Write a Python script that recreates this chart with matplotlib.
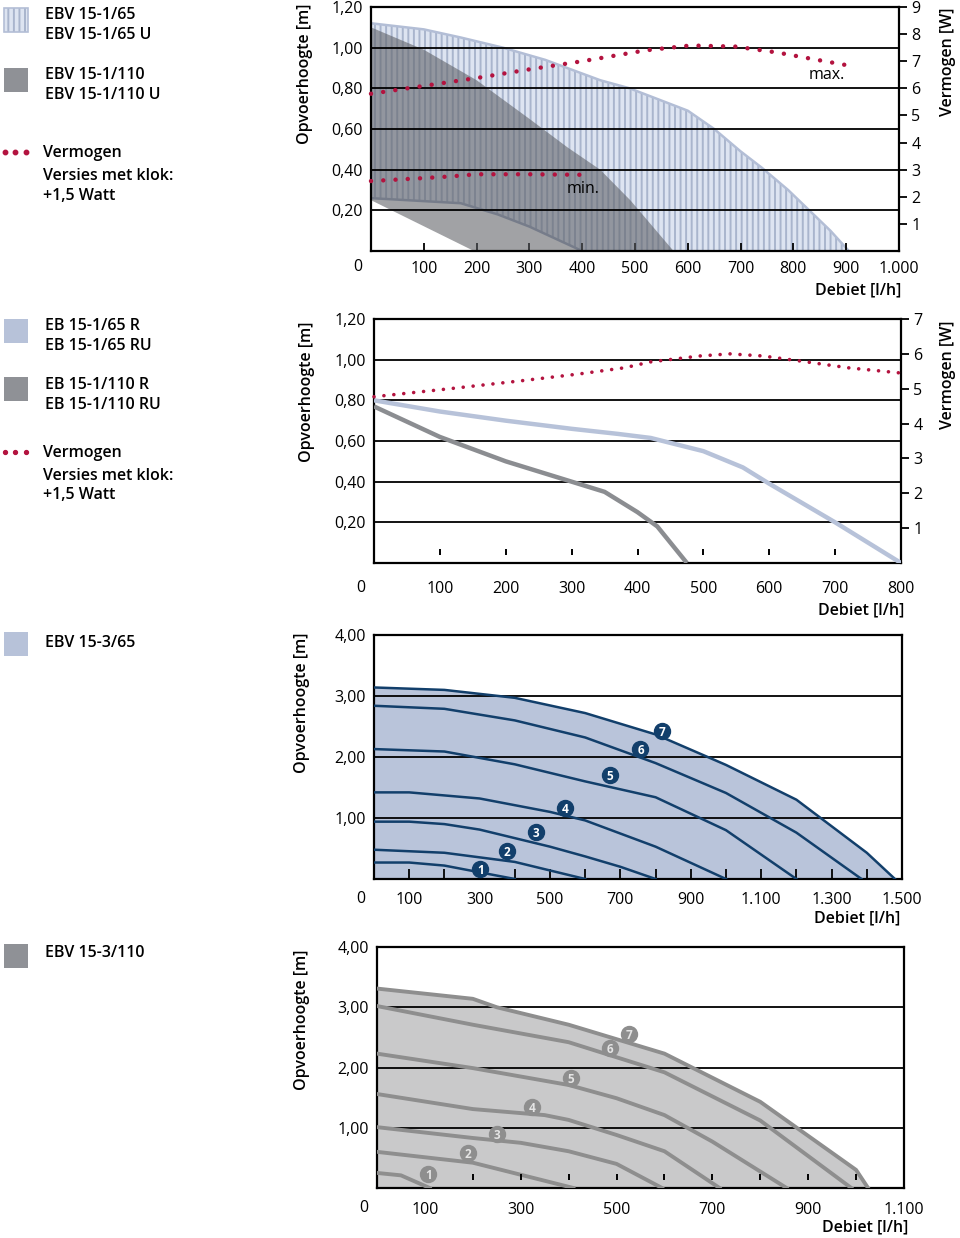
import matplotlib.pyplot as plt
from matplotlib.patches import Rectangle
from matplotlib import transforms

plt.rcParams['font.family'] = ['Open Sans', 'DejaVu Sans']
plt.rcParams['font.size'] = 11.5
plt.rcParams['hatch.linewidth'] = 1.4

W, H = 960, 1238

# ---- panel 1: EBV 15-1/65 (hatched band), EBV 15-1/110 (grey band), power
p1_65_top_x = [0, 100, 170, 250, 330, 434, 490, 540, 600, 650, 700, 740, 790, 830, 870, 905]
p1_65_top_y = [1.12, 1.09, 1.05, 1.00, 0.94, 0.84, 0.80, 0.75, 0.69, 0.60, 0.49, 0.41,
               0.30, 0.20, 0.10, 0.0]
p1_65_low_x = [0, 170, 240, 300, 350, 400]
p1_65_low_y = [0.26, 0.235, 0.18, 0.12, 0.06, 0.0]
p1_110_top_x = [0, 100, 200, 300, 372, 434, 491, 573]
p1_110_top_y = [1.10, 0.99, 0.84, 0.65, 0.51, 0.40, 0.25, 0.0]
p1_110_low_x = [0, 195]
p1_110_low_y = [0.25, 0.0]
p1_pmax_x = [0, 100, 200, 300, 400, 460, 520, 605, 690, 770, 845, 905]
p1_pmax_w = [5.8, 6.09, 6.38, 6.7, 7.0, 7.2, 7.4, 7.58, 7.54, 7.32, 7.05, 6.84]
p1_pmin_x = [0, 100, 150, 200, 300, 405]
p1_pmin_w = [2.58, 2.69, 2.75, 2.83, 2.83, 2.81]

# ---- panel 2: EB 15-1/65 R, EB 15-1/110 R, power
p2_65_x = [0, 100, 200, 300, 370, 420, 500, 560, 600, 700, 800]
p2_65_y = [0.80, 0.745, 0.70, 0.66, 0.635, 0.615, 0.55, 0.47, 0.39, 0.20, 0.0]
p2_110_x = [0, 100, 200, 300, 350, 400, 430, 475]
p2_110_y = [0.77, 0.62, 0.50, 0.40, 0.35, 0.25, 0.18, 0.0]
p2_pow_x = [0, 110, 220, 310, 380, 420, 495, 540, 590, 645, 720, 800]
p2_pow_w = [4.77, 4.99, 5.22, 5.42, 5.6, 5.77, 5.94, 6.0, 5.94, 5.8, 5.6, 5.45]

# ---- panel 3: EBV 15-3/65, speed steps 1..7
p3_x = [[0, 100, 200, 300, 400],
        [0, 200, 400, 600],
        [0, 100, 200, 300, 500, 600, 700, 800],
        [0, 100, 300, 500, 600, 800, 1000],
        [0, 200, 400, 600, 800, 1000, 1200],
        [0, 200, 400, 600, 800, 1000, 1200, 1385],
        [0, 200, 400, 600, 800, 1000, 1200, 1400, 1480]]
p3_y = [[0.27, 0.27, 0.22, 0.11, 0.0],
        [0.48, 0.43, 0.28, 0.0],
        [0.94, 0.94, 0.90, 0.81, 0.53, 0.37, 0.20, 0.0],
        [1.42, 1.42, 1.32, 1.10, 0.96, 0.53, 0.0],
        [2.13, 2.09, 1.88, 1.60, 1.34, 0.80, 0.0],
        [2.84, 2.79, 2.60, 2.32, 1.90, 1.41, 0.76, 0.0],
        [3.14, 3.10, 2.97, 2.72, 2.37, 1.87, 1.30, 0.43, 0.0]]
p3_badge_x = [302, 378, 461, 544, 670, 757, 817]
p3_badge_y = [0.16, 0.46, 0.77, 1.16, 1.70, 2.13, 2.43]

# ---- panel 4: EBV 15-3/110, speed steps 1..7
p4_x = [[0, 50, 110],
        [0, 200, 300, 410],
        [0, 200, 300, 400, 500, 595],
        [0, 200, 350, 400, 500, 600, 715],
        [0, 200, 400, 500, 600, 700, 855],
        [0, 200, 400, 600, 800, 990],
        [0, 200, 250, 400, 600, 800, 1000, 1025]]
p4_y = [[0.25, 0.21, 0.0],
        [0.60, 0.42, 0.22, 0.0],
        [1.01, 0.83, 0.75, 0.61, 0.40, 0.0],
        [1.56, 1.31, 1.21, 1.13, 0.88, 0.61, 0.0],
        [2.23, 1.99, 1.71, 1.49, 1.21, 0.77, 0.0],
        [3.02, 2.71, 2.42, 1.92, 1.12, 0.0],
        [3.31, 3.14, 3.0, 2.71, 2.23, 1.43, 0.30, 0.0]]
p4_badge_x = [107, 189, 251, 324, 404, 486, 526]
p4_badge_y = [0.23, 0.58, 0.90, 1.34, 1.83, 2.32, 2.55]

CRIMSON = '#b3133f'
NAVY = '#123f6b'
LIGHT = '#dde4f1'
STRIPE = '#a9b5cd'
EDGE = '#b3bed6'

fig = plt.figure(figsize=(W / 100, H / 100), dpi=100)

lg = fig.add_axes([0, 0, 1, 1])
lg.set_xlim(0, W)
lg.set_ylim(H, 0)
lg.axis('off')


def px_axes(l, t, r, b):
    return fig.add_axes([l / W, 1 - b / H, (r - l) / W, (b - t) / H])


def frame(ax, grid):
    for s in ax.spines.values():
        s.set_linewidth(1.6)
    for g in grid:
        ax.axhline(g, color='black', lw=1.3, zorder=3)


def zero_label(ax, dy):
    ax.annotate('0', xy=(0, 0), xycoords=('data', 'axes fraction'),
                xytext=(-13, -dy), textcoords='offset pixels',
                ha='center', va='center', annotation_clip=False)


def floating_ticks(ax, ticks):
    tr = transforms.blended_transform_factory(ax.transData, ax.transAxes)
    ax.plot(ticks, [0.045] * len(ticks), ls='none', marker='|', ms=5,
            mew=1.4, color='black', transform=tr, clip_on=False, zorder=4)


def dots(ax, x, y, lw):
    ax.plot(x, y, color=CRIMSON, lw=lw, ls=(0, (0.01, 2.75)),
            dash_capstyle='round', clip_on=False, zorder=6)


def badges(ax, bx, by, face, txt):
    for i, (x, y) in enumerate(zip(bx, by)):
        ax.plot(x, y, 'o', ms=11.5, color=face, zorder=7)
        ax.text(x, y, str(i + 1), color=txt, fontsize=8.5, fontweight='bold',
                ha='center', va='center_baseline', zorder=8)


# ================= panel 1
ax1 = px_axes(371, 7, 899, 251)
ax1.set_xlim(0, 1000)
ax1.set_ylim(0, 1.2)
band_x = p1_65_top_x + p1_65_low_x[::-1]
band_y = p1_65_top_y + p1_65_low_y[::-1]
ax1.fill(band_x, band_y, facecolor=LIGHT, edgecolor=STRIPE, hatch='|||',
         lw=0, zorder=1)
ax1.plot(p1_65_top_x, p1_65_top_y, color=EDGE, lw=1.8, zorder=1.5)
ax1.plot(p1_65_low_x, p1_65_low_y, color='#9aa6c0', lw=1.8, zorder=1.5)
g_x = p1_110_top_x + p1_110_low_x[::-1]
g_y = p1_110_top_y + p1_110_low_y[::-1]
ax1.fill(g_x, g_y, facecolor='#5d5f64', alpha=0.58, lw=0, zorder=2)
frame(ax1, [0.2, 0.4, 0.6, 0.8, 1.0])
ax1.set_yticks([0.2, 0.4, 0.6, 0.8, 1.0, 1.2],
               ['0,20', '0,40', '0,60', '0,80', '1,00', '1,20'])
ax1.tick_params(axis='y', length=0, pad=6)
ax1.set_xticks(range(100, 1001, 100),
               ['100', '200', '300', '400', '500', '600', '700', '800', '900', '1.000'])
ax1.tick_params(axis='x', direction='in', length=6, width=1.3, pad=7)
zero_label(ax1, 16)
ax1.text(402, 0.305, 'min.', ha='center', va='center', zorder=5)
ax1.text(863, 0.866, 'max.', ha='center', va='center', zorder=5)
ax1r = ax1.twinx()
ax1r.set_ylim(0, 9)
ax1r.set_yticks(range(1, 10))
ax1r.tick_params(axis='y', direction='out', length=6, width=1.3, pad=3)
for s in ax1r.spines.values():
    s.set_visible(False)
dots(ax1r, p1_pmax_x, p1_pmax_w, 3.2)
dots(ax1r, p1_pmin_x, p1_pmin_w, 3.2)

# ================= panel 2
ax2 = px_axes(374, 319, 901, 563)
ax2.set_xlim(0, 800)
ax2.set_ylim(0, 1.2)
ax2.plot(p2_65_x, p2_65_y, color='#b7c2d9', lw=3.2, zorder=4,
         solid_capstyle='butt', solid_joinstyle='round')
ax2.plot(p2_110_x, p2_110_y, color='#8b8d91', lw=3.2, zorder=4,
         solid_capstyle='butt', solid_joinstyle='round')
frame(ax2, [0.2, 0.4, 0.6, 0.8, 1.0])
ax2.set_yticks([0.2, 0.4, 0.6, 0.8, 1.0, 1.2],
               ['0,20', '0,40', '0,60', '0,80', '1,00', '1,20'])
ax2.tick_params(axis='y', length=0, pad=6)
ax2.set_xticks(range(100, 801, 100))
ax2.tick_params(axis='x', length=0, pad=13)
floating_ticks(ax2, list(range(0, 800, 100)))
zero_label(ax2, 25)
ax2r = ax2.twinx()
ax2r.set_ylim(0, 7)
ax2r.set_yticks(range(1, 8))
ax2r.tick_params(axis='y', direction='out', length=6, width=1.3, pad=3)
for s in ax2r.spines.values():
    s.set_visible(False)
dots(ax2r, p2_pow_x, p2_pow_w, 2.6)

# ================= panel 3
ax3 = px_axes(374, 635, 902, 879)
ax3.set_xlim(0, 1500)
ax3.set_ylim(0, 4)
ax3.fill_between(p3_x[6], p3_y[6], 0, color='#b9c4da', lw=0, zorder=1)
frame(ax3, [1, 2, 3])
for cx, cy in zip(p3_x, p3_y):
    ax3.plot(cx, cy, color=NAVY, lw=1.8, zorder=4)
badges(ax3, p3_badge_x, p3_badge_y, NAVY, 'white')
ax3.set_yticks([1, 2, 3, 4], ['1,00', '2,00', '3,00', '4,00'])
ax3.tick_params(axis='y', length=0, pad=6)
ax3.set_xticks(range(100, 1501, 100),
               ['100', '', '300', '', '500', '', '700', '', '900', '',
                '1.100', '', '1.300', '', '1.500'])
ax3.tick_params(axis='x', direction='in', length=7, width=1.3, pad=9)
zero_label(ax3, 20)

# ================= panel 4
ax4 = px_axes(377, 947, 904, 1188)
ax4.set_xlim(0, 1100)
ax4.set_ylim(0, 4)
ax4.fill_between(p4_x[6], p4_y[6], 0, color='#c9c9ca', lw=0, zorder=1)
frame(ax4, [1, 2, 3])
for cx, cy in zip(p4_x, p4_y):
    ax4.plot(cx, cy, color='#8e8e8e', lw=2.8, zorder=4)
badges(ax4, p4_badge_x, p4_badge_y, '#8e8e8e', '#e4e4e4')
ax4.set_yticks([1, 2, 3, 4], ['1,00', '2,00', '3,00', '4,00'])
ax4.tick_params(axis='y', length=0, pad=6)
ax4.set_xticks(range(100, 1101, 100),
               ['100', '', '300', '', '500', '', '700', '', '900', '', '1.100'])
ax4.tick_params(axis='x', length=0, pad=10)
floating_ticks(ax4, list(range(100, 1101, 100)))
zero_label(ax4, 20)

# ================= axis titles
sb = dict(fontweight='semibold')
for x, y in [(305, 74), (307, 392), (302, 703), (302, 1020)]:
    lg.text(x, y, 'Opvoerhoogte [m]', rotation=90, ha='center', va='center', **sb)
for x, y in [(948, 62), (948, 375)]:
    lg.text(x, y, 'Vermogen [W]', rotation=90, ha='center', va='center', **sb)
for x, y in [(901, 290), (904, 610), (900, 918), (908, 1227)]:
    lg.text(x, y, 'Debiet [l/h]', ha='right', va='center', **sb)

# ================= legends
lg.add_patch(Rectangle((4, 8), 24, 24, facecolor=LIGHT, edgecolor=STRIPE,
                       hatch='|||', lw=0))
lg.add_patch(Rectangle((4, 8), 24, 24, fill=False, edgecolor=EDGE, lw=1.2))
lg.add_patch(Rectangle((4, 68), 24, 24, color='#8f9196', lw=0))
lg.plot([5, 15, 26], [152, 152, 152], 'o', ms=3.2, color=CRIMSON)
for y, t in [(15, 'EBV 15-1/65'), (35, 'EBV 15-1/65 U'), (75, 'EBV 15-1/110'),
             (95, 'EBV 15-1/110 U')]:
    lg.text(45, y, t, va='center', **sb)
for y, t in [(153, 'Vermogen'), (176, 'Versies met klok:'), (196, '+1,5 Watt')]:
    lg.text(43, y, t, va='center', **sb)

lg.add_patch(Rectangle((4, 319), 24, 24, color='#b7c2d9', lw=0))
lg.add_patch(Rectangle((4, 377), 24, 24, color='#8f9196', lw=0))
lg.plot([5, 15, 26], [452, 452, 452], 'o', ms=2.8, color=CRIMSON)
for y, t in [(326, 'EB 15-1/65 R'), (346, 'EB 15-1/65 RU'), (385, 'EB 15-1/110 R'),
             (405, 'EB 15-1/110 RU')]:
    lg.text(45, y, t, va='center', **sb)
for y, t in [(453, 'Vermogen'), (476, 'Versies met klok:'), (495, '+1,5 Watt')]:
    lg.text(43, y, t, va='center', **sb)

lg.add_patch(Rectangle((4, 632), 24, 24, color='#b7c2d9', lw=0))
lg.text(45, 643, 'EBV 15-3/65', va='center', **sb)
lg.add_patch(Rectangle((4, 944), 24, 24, color='#8f9196', lw=0))
lg.text(45, 953, 'EBV 15-3/110', va='center', **sb)

fig.savefig('out.png', dpi=100)
